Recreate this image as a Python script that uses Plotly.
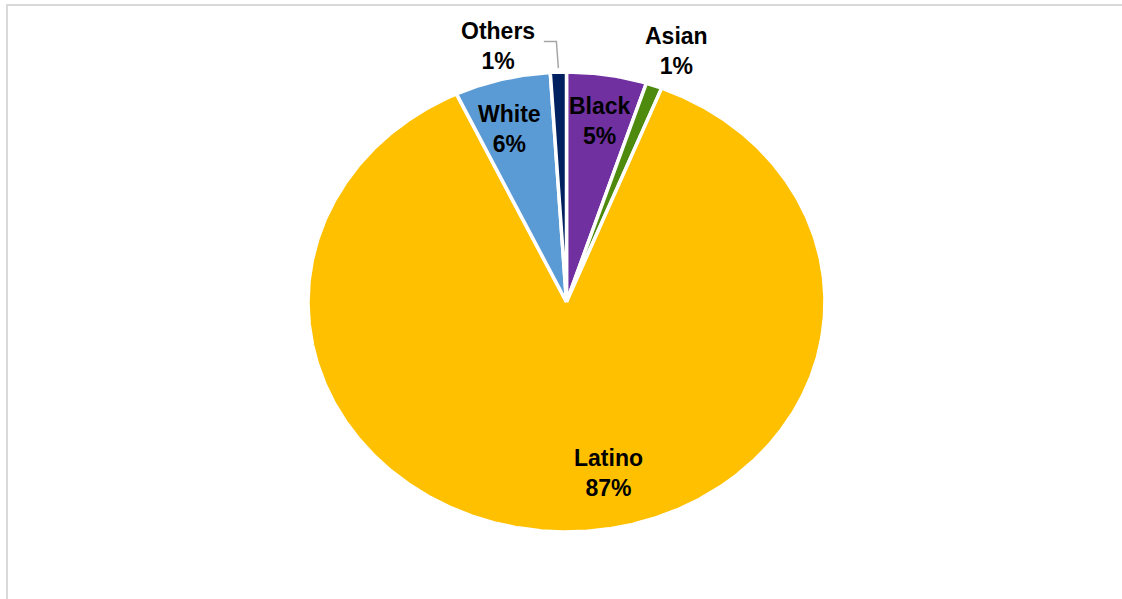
import numpy as np
import plotly.graph_objects as go

# Share of population by race/ethnicity (percent), clockwise from 12 o'clock
groups = ["Black", "Asian", "Latino", "White", "Others"]
shares = [5, 1, 87, 6, 1]
colors = ["#7030A0", "#4E8A0E", "#FFC000", "#5B9BD5", "#002060"]

W, H = 1122, 599
CX, CY = 566.5, 302.0      # pie centre (px)
RX, RY = 258.5, 230.0      # horizontal / vertical radius (px)

# label placement: radial fraction + small nudges; outside labels for thin slices
label_style = {
    "Black":  dict(r=0.80, dx=1, dy=1),
    "Asian":  dict(r=1.17, dx=0, dy=0, angle_shift=1.6),
    "Latino": dict(r=0.76, dx=36, dy=-4),
    "White":  dict(r=0.79, dx=1, dy=1, angle_shift=-2.2),
    "Others": dict(r=1.16, dx=21, dy=-1, angle_shift=-15.6),
}


def ellipse_pt(theta_deg, r=1.0):
    t = np.radians(theta_deg)
    return CX + r * RX * np.sin(t), CY - r * RY * np.cos(t)


fig = go.Figure()

total = float(sum(shares))
start = 0.0
mids = {}
for name, val, col in zip(groups, shares, colors):
    sweep = 360.0 * val / total
    end = start + sweep
    n = max(3, int(sweep * 3))
    th = np.linspace(start, end, n)
    ax, ay = ellipse_pt(th)
    xs = np.concatenate([[CX], ax, [CX]])
    ys = np.concatenate([[CY], ay, [CY]])
    fig.add_trace(go.Scatter(
        x=xs, y=ys, mode="lines", fill="toself", fillcolor=col,
        line=dict(color="white", width=3.5), hoverinfo="skip", showlegend=False,
    ))
    mids[name] = (start + end) / 2.0
    start = end

font = dict(family="Liberation Sans, Arial, sans-serif", size=23, color="#000000")
for name, val in zip(groups, shares):
    st = label_style[name]
    ang = mids[name] + st.get("angle_shift", 0.0)
    lx, ly = ellipse_pt(ang, st["r"])
    lx += st["dx"]
    ly += st["dy"]
    fig.add_annotation(
        x=lx, y=ly, xref="x", yref="y", showarrow=False,
        text=f"<b>{name}<br>{val}%</b>", font=font, align="center",
    )
    if name == "Others":
        # leader line from the label to the thin slice
        ex, ey = ellipse_pt(mids[name], 1.0)
        fig.add_trace(go.Scatter(
            x=[lx + 46, ex - 2, ex], y=[ly - 5, ly - 5, ey - 4], mode="lines",
            line=dict(color="#A6A6A6", width=1.5), hoverinfo="skip", showlegend=False,
        ))

# chart-area frame
fig.add_shape(type="rect", xref="x", yref="y", x0=7, y0=5, x1=W + 20, y1=H + 20,
              line=dict(color="#D9D9D9", width=2), fillcolor="rgba(0,0,0,0)", layer="below")

fig.update_layout(
    width=W, height=H,
    margin=dict(l=0, r=0, t=0, b=0),
    paper_bgcolor="white", plot_bgcolor="white",
    xaxis=dict(range=[0, W], visible=False, fixedrange=True),
    yaxis=dict(range=[H, 0], visible=False, fixedrange=True),
    showlegend=False,
)

fig.write_html("out.html", config={"displayModeBar": False})
